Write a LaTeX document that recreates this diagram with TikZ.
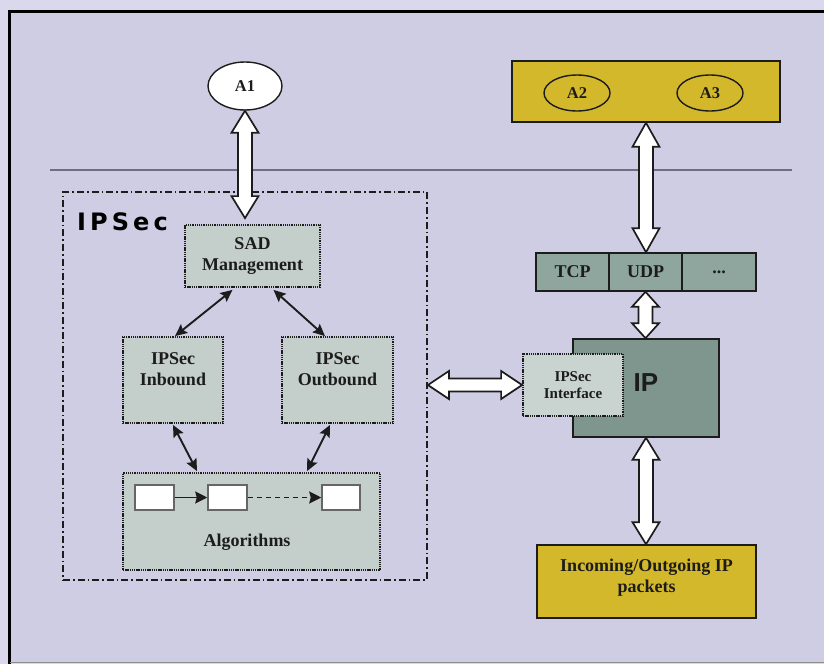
\documentclass[tikz,border=0pt]{standalone}
\usepackage{fontspec}
\setmainfont{Liberation Serif}
\newfontfamily\headsans{DejaVu Sans}
\newfontfamily\plainsans{Liberation Sans}
\usetikzlibrary{arrows.meta,shapes.geometric,calc}

\definecolor{pagebg}{HTML}{DAD8EC}
\definecolor{panelbg}{HTML}{CFCDE4}
\definecolor{boxfill}{HTML}{C4CECA}
\definecolor{tcpfill}{HTML}{8FA69F}
\definecolor{ipfill}{HTML}{7F968F}
\definecolor{ifacefill}{HTML}{C9D3D0}
\definecolor{mustard}{HTML}{D3B82B}
\definecolor{rulegray}{HTML}{6F6E84}
\definecolor{ink}{HTML}{1C1C1C}

% hollow white double arrows between two anchors; optional head length
\newcommand\vbigarrow[3][22pt]{%
  \draw[bigarrowstyle] let \p1=#2, \p2=#3 in
    (\x1,\y1) -- (\x1+13.5pt,\y1-#1) -- (\x1+7pt,\y1-#1) -- (\x1+7pt,\y2+#1)
    -- (\x1+13.5pt,\y2+#1) -- (\x1,\y2) -- (\x1-13.5pt,\y2+#1) -- (\x1-7pt,\y2+#1)
    -- (\x1-7pt,\y1-#1) -- (\x1-13.5pt,\y1-#1) -- cycle;}
\newcommand\hbigarrow[3][21pt]{%
  \draw[bigarrowstyle] let \p1=#2, \p2=#3 in
    (\x1,\y1) -- (\x1+#1,\y1+14pt) -- (\x1+#1,\y1+6.5pt) -- (\x2-#1,\y1+6.5pt)
    -- (\x2-#1,\y1+14pt) -- (\x2,\y1) -- (\x2-#1,\y1-14pt) -- (\x2-#1,\y1-6.5pt)
    -- (\x1+#1,\y1-6.5pt) -- (\x1+#1,\y1-14pt) -- cycle;}

\tikzset{
  bigarrowstyle/.style={draw=ink, fill=white, line width=1.7pt, line join=miter},
  lbl/.style={font=\bfseries\fontsize{18}{19}\selectfont, text=ink, align=center},
  dotbox/.style={draw=ink, dash pattern=on 1.3pt off 0.9pt, line width=1.8pt,
    fill=boxfill, inner sep=0pt, font=\bfseries\fontsize{18}{21}\selectfont,
    text=ink, align=center},
  solidbox/.style={draw=ink, line width=1.6pt, inner sep=0pt,
    font=\bfseries\fontsize{18}{20}\selectfont, text=ink, align=center},
  app/.style={ellipse, draw=ink, line width=1.4pt, inner sep=0pt,
    font=\bfseries\fontsize{16.5}{17}\selectfont, text=ink},
  smallarrow/.style={draw=ink, line width=1.9pt,
    {Stealth[length=12pt,width=11pt,inset=2pt]}-{Stealth[length=12pt,width=11pt,inset=2pt]}},
  stepcell/.style={draw=black!60, line width=1.5pt, fill=white,
    minimum width=39pt, minimum height=25pt, inner sep=0pt},
  chainarrow/.style={draw=ink, line width=1.8pt, -{Stealth[length=12pt,width=12pt,inset=1.5pt]}}
}

\begin{document}
\begin{tikzpicture}[x=1pt,y=-1pt]
\useasboundingbox (0,0) rectangle (824,664);
\fill[pagebg] (0,0) rectangle (824,664);
\fill[panelbg] (9.5,11.5) rectangle (824,662.5);
% panel frame
\draw[black, line width=3pt] (9.5,664) -- (9.5,11.5) -- (824,11.5);
\draw[black!45, line width=1.2pt] (9.5,662.8) -- (824,662.8);

% separator between applications and the stack
\draw[rulegray, line width=1.3pt] (50,170) -- (792,170);

% IPSec module frame
\node[draw=ink, line width=1.8pt, dash pattern=on 7pt off 3pt on 1.6pt off 3pt,
      minimum width=364pt, minimum height=388pt, inner sep=0pt]
      (ipsec) at (245,386) {};
\node[anchor=west, inner sep=0pt, text=black,
      font=\headsans\bfseries\fontsize{24}{24}\selectfont\addfontfeatures{LetterSpace=17}]
      (ipseclbl) at (77,222) {IPSec};

% applications
\node[app, fill=white, minimum width=74pt, minimum height=48pt] (a1) at (245,86) {A1};
\node[solidbox, fill=mustard, minimum width=268pt, minimum height=61pt] (apps) at (646,91.5) {};
\node[app, minimum width=66pt, minimum height=36pt] (a2) at (577,93) {A2};
\node[app, minimum width=66pt, minimum height=36pt] (a3) at (710,93) {A3};

% IPSec components
\node[dotbox, minimum width=135pt, minimum height=62pt] (sad) at (252.5,256) {SAD\\Management};
\node[dotbox, minimum width=100pt, minimum height=86pt, text depth=21pt] (inb) at (173,380) {IPSec\\Inbound};
\node[dotbox, minimum width=111pt, minimum height=86pt, text depth=21pt] (outb) at (337.5,380) {IPSec\\Outbound};
\node[dotbox, minimum width=257pt, minimum height=97pt] (alg) at (251.5,521.5) {};
\node[lbl] (algtext) at (247,542) {Algorithms};
\node[stepcell] (s1) at (154.5,497.5) {};
\node[stepcell] (s2) at (227.5,497.5) {};
\node[stepcell, minimum width=38pt] (s3) at (341,497.5) {};
\draw[chainarrow] (s1) -- (s2);
\draw[chainarrow, dash pattern=on 5pt off 4pt] (s2) -- (s3);

% transport layer
\node[solidbox, fill=tcpfill, minimum width=73pt, minimum height=38pt] (tcp) at (572.5,272) {TCP};
\node[solidbox, fill=tcpfill, minimum width=73pt, minimum height=38pt] (udp) at (645.5,272) {UDP};
\node[solidbox, fill=tcpfill, minimum width=74pt, minimum height=38pt] (more) at (719,272) {...};

% network layer
\node[solidbox, fill=ipfill, minimum width=146pt, minimum height=98pt] (ip) at (646,388) {};
\node[inner sep=0pt, text=ink, font=\plainsans\bfseries\fontsize{26}{26}\selectfont] (iptext) at (646,383) {IP};
\node[dotbox, fill=ifacefill, minimum width=100pt, minimum height=62pt,
      font=\bfseries\fontsize{15}{17}\selectfont] (iface) at (573,385) {IPSec\\Interface};

\node[solidbox, fill=mustard, minimum width=219pt, minimum height=73pt, text depth=12pt,
      font=\bfseries\fontsize{18}{21}\selectfont] (pkts) at (646.5,581.5) {Incoming/Outgoing IP\\packets};

% control connectors inside the module
\draw[smallarrow] ($(sad.south)+(-20,2)$) -- ($(inb.north)+(2,0)$);
\draw[smallarrow] ($(sad.south)+(21,2)$) -- ($(outb.north)+(-12.5,0)$);
\draw[smallarrow] ($(inb.south)+(0,1)$) -- ($(alg.north)+(-54.5,-1)$);
\draw[smallarrow] ($(outb.south)+(-7.5,1)$) -- ($(alg.north)+(55.5,-1)$);

% data paths
\vbigarrow{(a1.south)}{($(a1.south |- sad.north)+(0,-6)$)}
\vbigarrow[24pt]{(apps.south)}{(apps.south |- udp.north)}
\vbigarrow[15pt]{(udp.south)}{(udp.south |- ip.north)}
\vbigarrow{(ip.south)}{(ip.south |- pkts.north)}
\hbigarrow{(ipsec.east |- iface.west)}{(iface.west)}
\end{tikzpicture}
\end{document}
